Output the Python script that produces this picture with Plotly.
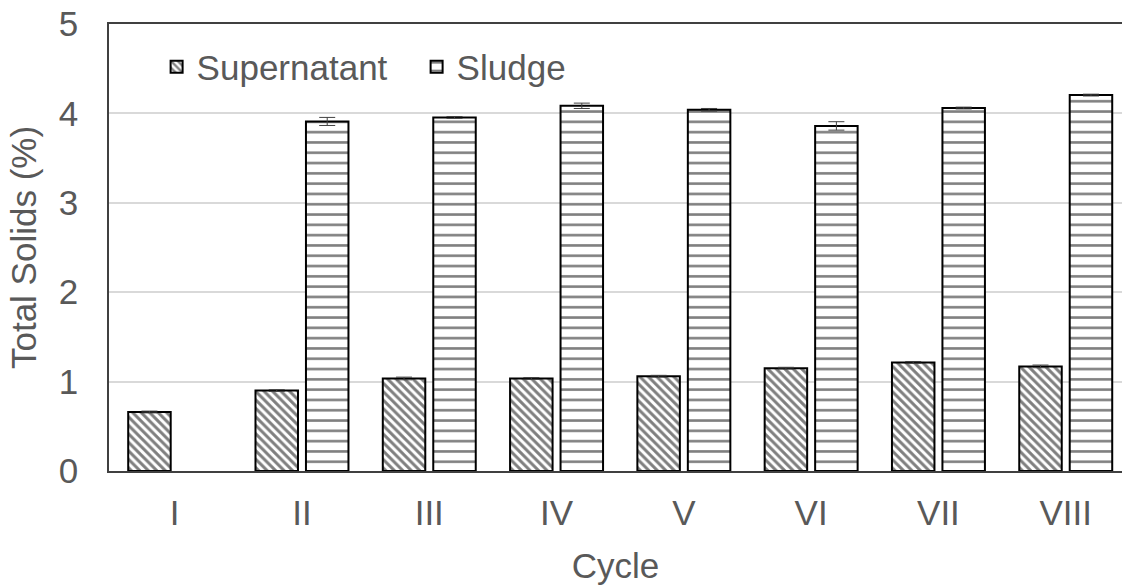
import plotly.graph_objects as go

cycles = ["I", "II", "III", "IV", "V", "VI", "VII", "VIII"]
supernatant = [0.66, 0.90, 1.035, 1.035, 1.06, 1.15, 1.215, 1.17]
supernatant_err = [0.01, 0.01, 0.015, 0.01, 0.01, 0.01, 0.01, 0.015]
sludge = [None, 3.91, 3.955, 4.085, 4.04, 3.86, 4.06, 4.205]
sludge_err = [0, 0.045, 0.01, 0.03, 0.015, 0.047, 0.01, 0.01]

FONT = "Liberation Sans, Arial, sans-serif"
GREY = "#595959"
FS = 35

fig = go.Figure()
fig.add_trace(go.Bar(
    name="Supernatant", x=cycles, y=supernatant,
    error_y=dict(type="data", array=supernatant_err, visible=True,
                 color="#404040", thickness=1, width=8),
    marker=dict(color="white", line=dict(color="black", width=2),
                pattern=dict(shape="\\", fgcolor="black", bgcolor="white",
                             size=6, solidity=0.5)),
))
fig.add_trace(go.Bar(
    name="Sludge", x=cycles, y=sludge,
    error_y=dict(type="data", array=sludge_err, visible=True,
                 color="#404040", thickness=1, width=8),
    marker=dict(color="white", line=dict(color="black", width=2),
                pattern=dict(shape="-", fgcolor="black", bgcolor="white",
                             size=10.3, solidity=0.25)),
))

fig.update_layout(
    width=1122, height=586,
    margin=dict(l=109, r=0, t=24, b=115, autoexpand=False),
    plot_bgcolor="white", paper_bgcolor="white",
    barmode="group", bargap=0.207, bargroupgap=0.158,
    font=dict(family=FONT, size=FS, color=GREY),
    showlegend=True,
    legend=dict(orientation="h", x=0.047, y=0.97, xanchor="left", yanchor="top",
                bgcolor="rgba(0,0,0,0)", font=dict(size=FS, color=GREY),
                entrywidth=215, entrywidthmode="pixels", traceorder="normal"),
    xaxis=dict(
        type="category", range=[-0.516, 7.442], automargin=False,
        showline=True, linecolor="#404040", linewidth=1.5, mirror=True,
        showgrid=False, ticks="", ticklabelstandoff=10,
        tickfont=dict(size=FS, color=GREY),
        title=dict(text="Cycle", font=dict(size=FS, color=GREY), standoff=23),
    ),
    yaxis=dict(
        range=[0, 5], tickvals=[0, 1, 2, 3, 4, 5], automargin=False,
        showline=True, linecolor="#404040", linewidth=1.5,
        showgrid=True, gridcolor="#d9d9d9", gridwidth=1.5,
        zeroline=False, ticks="", ticklabelstandoff=22,
        tickfont=dict(size=FS, color=GREY),
        title=dict(text="Total Solids (%)", font=dict(size=FS, color=GREY), standoff=12),
    ),
)

fig.write_html(
    "out.html",
    config={"displayModeBar": False},
    post_script="document.body.style.margin='0';document.body.style.overflow='hidden';",
)
